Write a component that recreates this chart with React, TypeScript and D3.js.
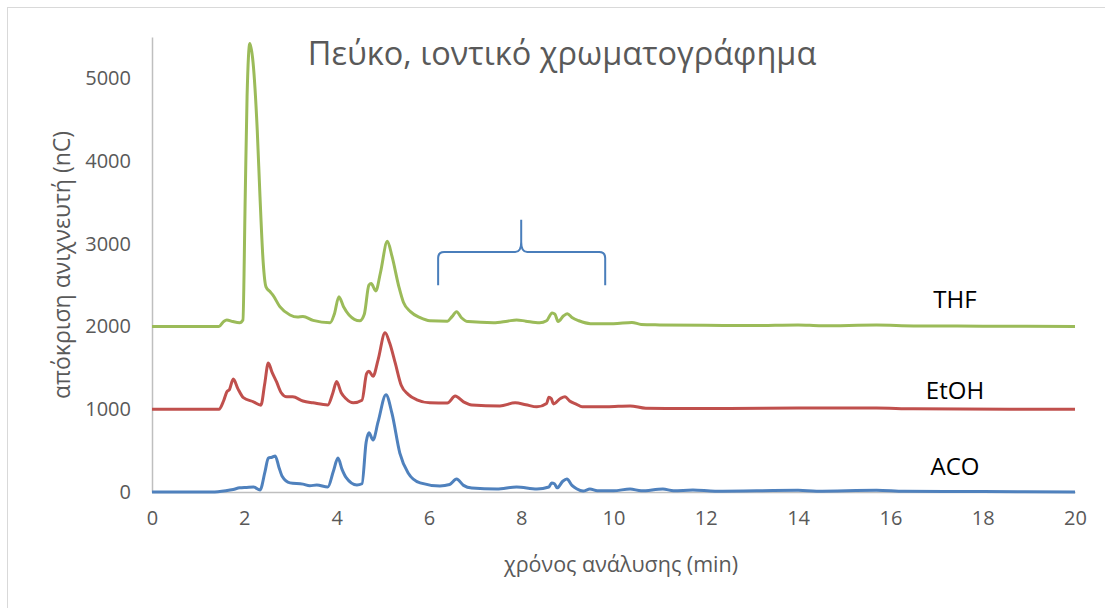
import React, { useEffect, useRef } from 'react';
import * as d3 from 'd3';

const title = 'Πεύκο, ιοντικό χρωματογράφημα';
const xTitle = 'χρόνος ανάλυσης (min)';
const yTitle = 'απόκριση ανιχνευτή (nC)';

const xTicks = [0, 2, 4, 6, 8, 10, 12, 14, 16, 18, 20];
const yTicks = [0, 1000, 2000, 3000, 4000, 5000];

// time (min), response (nC) as plotted (series already stacked)
const thfT = [0, 1.45, 1.55, 1.62, 1.75, 1.9, 1.97, 2.02, 2.06, 2.12, 2.19, 2.28, 2.34, 2.41, 2.47, 2.56, 2.62, 2.77, 2.99, 3.15, 3.27, 3.49, 3.86, 3.95, 4.05, 4.15, 4.27, 4.5, 4.6, 4.7, 4.75, 4.85, 4.95, 5.1, 5.2, 5.35, 5.45, 5.6, 5.81, 6.02, 6.4, 6.5, 6.6, 6.7, 6.85, 7.4, 7.7, 7.9, 8.1, 8.4, 8.55, 8.67, 8.73, 8.8, 8.92, 9.0, 9.1, 9.25, 9.5, 10.0, 10.4, 10.6, 11, 12, 13, 14, 14.5, 15.7, 16.5, 18, 20];
const thfV = [2000, 2000, 2060, 2080, 2060, 2046, 2080, 3570, 4780, 5420, 5190, 4380, 3570, 2770, 2480, 2420, 2380, 2240, 2140, 2115, 2120, 2075, 2046, 2150, 2360, 2240, 2140, 2070, 2150, 2500, 2520, 2430, 2650, 3030, 2850, 2480, 2290, 2180, 2107, 2070, 2065, 2120, 2180, 2110, 2060, 2046, 2065, 2080, 2065, 2046, 2070, 2165, 2150, 2060, 2130, 2155, 2110, 2070, 2035, 2035, 2050, 2025, 2020, 2015, 2012, 2020, 2010, 2018, 2008, 2005, 2000];

const etohT = [0, 1.45, 1.55, 1.62, 1.68, 1.76, 1.86, 1.98, 2.2, 2.36, 2.44, 2.52, 2.6, 2.7, 2.8, 2.92, 3.05, 3.27, 3.49, 3.81, 3.92, 4.0, 4.1, 4.2, 4.36, 4.55, 4.65, 4.7, 4.79, 4.9, 5.05, 5.15, 5.27, 5.4, 5.55, 5.74, 6.02, 6.4, 6.57, 6.75, 6.93, 7.54, 7.87, 8.1, 8.34, 8.55, 8.6, 8.65, 8.7, 8.85, 8.95, 9.05, 9.2, 9.32, 9.86, 10.36, 10.7, 11.5, 12.5, 14, 15.7, 16.5, 20];
const etohV = [1000, 1000, 1100, 1210, 1240, 1365, 1250, 1140, 1090, 1050, 1300, 1560, 1450, 1330, 1200, 1150, 1150, 1100, 1078, 1053, 1200, 1335, 1200, 1130, 1078, 1110, 1430, 1460, 1400, 1600, 1925, 1800, 1560, 1290, 1180, 1114, 1078, 1075, 1160, 1090, 1053, 1041, 1078, 1055, 1029, 1070, 1145, 1130, 1065, 1130, 1150, 1100, 1060, 1029, 1030, 1041, 1012, 1010, 1008, 1015, 1015, 1005, 1000];

const acoT = [0, 1.3, 1.6, 1.76, 1.9, 2.05, 2.2, 2.34, 2.45, 2.52, 2.6, 2.67, 2.75, 2.82, 2.99, 3.27, 3.42, 3.57, 3.81, 3.93, 4.03, 4.12, 4.2, 4.44, 4.55, 4.64, 4.7, 4.79, 4.9, 5.07, 5.2, 5.37, 5.55, 5.81, 6.24, 6.45, 6.6, 6.75, 6.93, 7.47, 7.9, 8.34, 8.6, 8.66, 8.72, 8.78, 8.9, 8.99, 9.1, 9.2, 9.34, 9.49, 9.65, 10.0, 10.36, 10.6, 11.07, 11.3, 11.72, 12.2, 14, 14.4, 15.7, 16.3, 18, 20];
const acoV = [0, 0, 15, 30, 50, 55, 60, 25, 250, 410, 420, 436, 300, 190, 110, 95, 75, 85, 60, 250, 410, 270, 180, 85, 100, 600, 715, 630, 850, 1175, 950, 470, 230, 110, 73, 90, 157, 80, 48, 36, 60, 36, 60, 110, 100, 50, 130, 157, 80, 40, 12, 36, 15, 15, 36, 15, 36, 15, 24, 10, 20, 10, 22, 8, 5, 0];

const seriesNames = ['THF', 'EtOH', 'ACO'];
const seriesColors = ['#9bbb59', '#c0504d', '#4f81bd'];
const seriesLabelY = [2230, 1130, 200];

// brace over the 6–10 min region: left, mid, right (min); foot, bar, tip (nC)
const braceX = [6.2, 8.0, 9.82];
const braceY = [2500, 2900, 3290];

const W = 1105;
const H = 608;
const font = '"Open Sans", "Noto Sans", sans-serif';

export default function App() {
  const svgRef = useRef<SVGSVGElement>(null);

  useEffect(() => {
    if (!svgRef.current) return;
    const svg = d3.select(svgRef.current);
    svg.selectAll('*').remove();

    const x = d3.scaleLinear().domain([0, 20]).range([152, 1075]);
    const y = d3.scaleLinear().domain([0, 5500]).range([492, 37]);

    // chart border
    svg.append('rect')
      .attr('x', 7.5).attr('y', 7.5)
      .attr('width', W + 10).attr('height', H + 10)
      .attr('fill', '#fff')
      .attr('stroke', '#d9d9d9');

    // axes
    const yAxis = svg.append('g')
      .attr('transform', `translate(${x(0)},0)`)
      .call(d3.axisLeft(y).tickValues(yTicks).tickSize(0).tickPadding(21).tickFormat(d3.format('d')));
    yAxis.select('.domain').attr('stroke', '#bfbfbf').attr('stroke-width', 1.5);
    yAxis.selectAll('text').attr('font-family', font).attr('font-size', 20).attr('fill', '#595959');

    const xAxis = svg.append('g')
      .attr('transform', `translate(0,${y(0)})`)
      .call(d3.axisBottom(x).tickValues(xTicks).tickSize(0).tickPadding(19).tickFormat(d3.format('d')));
    xAxis.select('.domain').attr('stroke', '#bfbfbf').attr('stroke-width', 1.5);
    xAxis.selectAll('text').attr('font-family', font).attr('font-size', 20).attr('fill', '#595959');

    // series
    const data = [
      thfT.map((t, i) => [t, thfV[i]]),
      etohT.map((t, i) => [t, etohV[i]]),
      acoT.map((t, i) => [t, acoV[i]]),
    ];
    const line = d3.line<number[]>()
      .x(d => x(d[0]))
      .y(d => y(d[1]))
      .curve(d3.curveMonotoneX);

    data.forEach((pts, i) => {
      svg.append('path')
        .datum(pts)
        .attr('fill', 'none')
        .attr('stroke', seriesColors[i])
        .attr('stroke-width', 3)
        .attr('stroke-linejoin', 'round')
        .attr('d', line);
    });

    // series labels
    seriesNames.forEach((name, i) => {
      svg.append('text')
        .attr('x', 955)
        .attr('y', y(seriesLabelY[i]))
        .attr('text-anchor', 'middle')
        .attr('font-family', font)
        .attr('font-size', 24)
        .attr('fill', '#000')
        .text(name);
    });

    // brace annotation
    const [xl, xm, xr] = braceX.map(v => x(v));
    const [yf, yb, yt] = braceY.map(v => y(v));
    const r = 6;
    const brace = d3.path();
    brace.moveTo(xl, yf);
    brace.lineTo(xl, yb + r);
    brace.quadraticCurveTo(xl, yb, xl + r, yb);
    brace.lineTo(xm - r, yb);
    brace.quadraticCurveTo(xm, yb, xm, yb - 10);
    brace.lineTo(xm, yt);
    brace.moveTo(xm, yb - 10);
    brace.quadraticCurveTo(xm, yb, xm + r, yb);
    brace.lineTo(xr - r, yb);
    brace.quadraticCurveTo(xr, yb, xr, yb + r);
    brace.lineTo(xr, yf);
    svg.append('path')
      .attr('d', brace.toString())
      .attr('fill', 'none')
      .attr('stroke', '#4a7ebb')
      .attr('stroke-width', 2);

    // titles
    svg.append('text')
      .attr('x', 562).attr('y', 65)
      .attr('text-anchor', 'middle')
      .attr('font-family', font)
      .attr('font-size', 32.5)
      .attr('fill', '#595959')
      .text(title);

    svg.append('text')
      .attr('x', 621).attr('y', 572)
      .attr('text-anchor', 'middle')
      .attr('font-family', font)
      .attr('font-size', 21.5)
      .attr('fill', '#595959')
      .text(xTitle);

    svg.append('text')
      .attr('transform', 'translate(70,265) rotate(-90)')
      .attr('text-anchor', 'middle')
      .attr('font-family', font)
      .attr('font-size', 23)
      .attr('fill', '#595959')
      .text(yTitle);
  }, []);

  return (
    <div style={{ position: 'absolute', left: 0, top: 0, width: W, height: H, background: '#fff' }}>
      <svg ref={svgRef} width={W} height={H} />
    </div>
  );
}
